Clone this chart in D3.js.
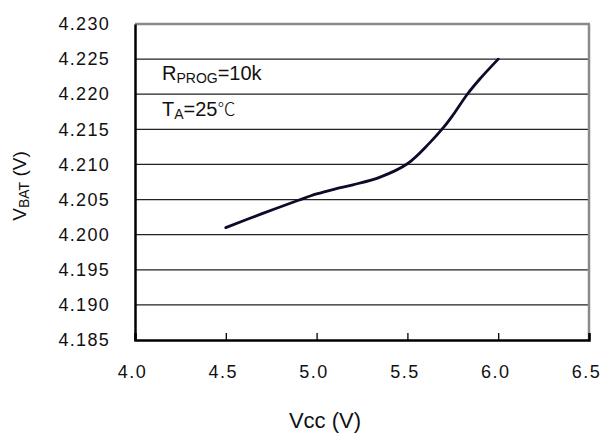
<!DOCTYPE html>
<html><head><meta charset="utf-8">
<script src="https://cdn.jsdelivr.net/npm/d3@7"></script>
<style>body{margin:0;background:#fff}text{font-family:Arial,"Liberation Sans",sans-serif;fill:#111}</style>
</head><body>
<svg id="c" width="603" height="438"></svg>
<script>
const vcc  = [4.5, 4.7, 4.9, 5.0, 5.1, 5.2, 5.35, 5.5, 5.62, 5.7, 5.75, 5.83, 5.9, 6.0];
const vbat = [4.2010, 4.2030, 4.2049, 4.2058, 4.2065, 4.2071, 4.2082, 4.2101, 4.2130, 4.2153, 4.2170, 4.2200, 4.2222, 4.2250];
const xTicks = [4.0, 4.5, 5.0, 5.5, 6.0, 6.5];
const yTicks = [4.185, 4.190, 4.195, 4.200, 4.205, 4.210, 4.215, 4.220, 4.225, 4.230];

const L = 135, R = 589, T = 24, B = 340;
const svg = d3.select("#c");
const x = d3.scaleLinear().domain([4.0, 6.5]).range([L, R]);
const y = d3.scaleLinear().domain([4.185, 4.230]).range([B, T]);

// gridlines
svg.append("g").selectAll("line").data(yTicks.slice(1, -1)).join("line")
  .attr("x1", L).attr("x2", R).attr("y1", d => y(d)).attr("y2", d => y(d))
  .attr("stroke", "#222").attr("stroke-width", 1.2);

// frame top & right (gray)
svg.append("line").attr("x1", L).attr("x2", R + 1).attr("y1", T).attr("y2", T).attr("stroke", "#8a8a8a").attr("stroke-width", 2.5);
svg.append("line").attr("x1", R).attr("x2", R).attr("y1", T).attr("y2", B).attr("stroke", "#8a8a8a").attr("stroke-width", 2.5);

// y axis
const yAx = svg.append("g").attr("transform", `translate(${L},0)`)
  .call(d3.axisLeft(y).tickValues(yTicks).tickFormat(d3.format(".3f")).tickSize(0).tickPadding(25));
yAx.select(".domain").attr("stroke", "#000").attr("stroke-width", 2.5);
yAx.selectAll("text").attr("font-size", 18).attr("letter-spacing", "1.3px").attr("fill", "#111").attr("font-family", "Arial, 'Liberation Sans', sans-serif");

// x axis
const xAx = svg.append("g").attr("transform", `translate(0,${B})`)
  .call(d3.axisTop(x).tickValues(xTicks).tickFormat(d3.format(".1f")).tickSize(7).tickPadding(0));
xAx.select(".domain").attr("stroke", "#000").attr("stroke-width", 2.5);
xAx.selectAll("line").attr("stroke", "#000").attr("stroke-width", 1.3);
xAx.selectAll("text").attr("font-size", 18).attr("letter-spacing", "1.5px").attr("fill", "#111")
  .attr("font-family", "Arial, 'Liberation Sans', sans-serif")
  .attr("y", 32).attr("dy", "0.35em").attr("dx", -3);

// curve
const pts = vcc.map((v, i) => [v, vbat[i]]);
svg.append("path").datum(pts)
  .attr("d", d3.line().x(d => x(d[0])).y(d => y(d[1])).curve(d3.curveCatmullRom))
  .attr("fill", "none").attr("stroke", "#0c0c2a").attr("stroke-width", 2.8).attr("stroke-linecap", "round");

// annotations
const a1 = svg.append("text").attr("x", 162).attr("y", 80).attr("font-size", 20);
a1.append("tspan").text("R");
a1.append("tspan").attr("font-size", 14).attr("dy", 3).text("PROG");
a1.append("tspan").attr("dy", -3).text("=10k");
const a2 = svg.append("text").attr("x", 162).attr("y", 116).attr("font-size", 20);
a2.append("tspan").text("T");
a2.append("tspan").attr("font-size", 14).attr("dy", 3).text("A");
a2.append("tspan").attr("dy", -3).text("=25");
a2.append("tspan").attr("font-family", "'Noto Sans CJK SC', sans-serif").attr("font-size", 18).attr("font-weight", 300).text("℃");

// axis titles
svg.append("text").attr("x", 325).attr("y", 428).attr("text-anchor", "middle").attr("font-size", 22).text("Vcc (V)");
const yt = svg.append("text").attr("transform", "translate(26,186) rotate(-90)").attr("text-anchor", "middle").attr("font-size", 19);
yt.append("tspan").text("V");
yt.append("tspan").attr("font-size", 14).attr("dy", 3).text("BAT");
yt.append("tspan").attr("dy", -3).text(" (V)");
</script>
</body></html>
